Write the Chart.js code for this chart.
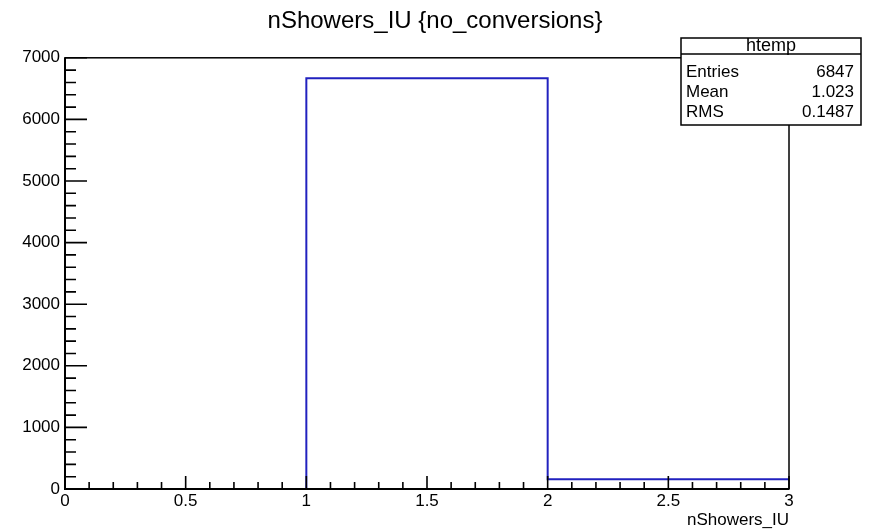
<!DOCTYPE html>
<html>
<head>
<meta charset="utf-8">
<script src="https://cdn.jsdelivr.net/npm/chart.js@4.4.1/dist/chart.umd.min.js"></script>
<style>
  html, body { margin: 0; padding: 0; background: #fff; }
  #wrap { width: 870px; height: 531px; }
</style>
</head>
<body>
<div id="wrap"><canvas id="hist"></canvas></div>
<script>
// histogram data
var binEdges = [0, 1, 2, 3];
var binCounts = [0, 6670, 157];
var xTicks = [0, 0.5, 1, 1.5, 2, 2.5, 3];
var yTicks = [0, 1000, 2000, 3000, 4000, 5000, 6000, 7000];
var statNames = ['Entries', 'Mean', 'RMS'];
var statValues = ['6847', '1.023', '0.1487'];

var FONT = '"Liberation Sans", Arial, Helvetica, sans-serif';

// step outline of the histogram built from the bins
var outline = [];
for (var i = 0; i < binCounts.length; i++) {
    outline.push({x: binEdges[i], y: binCounts[i]});
    outline.push({x: binEdges[i + 1], y: binCounts[i]});
}

function subdivide(ticks, n) {
    var out = [];
    for (var i = 0; i < ticks.length - 1; i++) {
        for (var k = 1; k < n; k++) {
            out.push(ticks[i] + (ticks[i + 1] - ticks[i]) * k / n);
        }
    }
    return out;
}

var rootFrame = {
    id: 'rootFrame',
    afterDatasetsDraw: function(chart) {
        var ctx = chart.ctx;
        var a = chart.chartArea;
        var xs = chart.scales.x, ys = chart.scales.y;
        ctx.save();
        ctx.strokeStyle = '#000';

        // frame
        ctx.lineWidth = 1.5;
        ctx.strokeRect(a.left, a.top, a.right - a.left, a.bottom - a.top);

        // axes
        ctx.lineWidth = 2;
        ctx.beginPath();
        ctx.moveTo(a.left, a.top);
        ctx.lineTo(a.left, a.bottom);
        ctx.lineTo(a.right, a.bottom);
        ctx.stroke();

        // ticks drawn inside the frame
        ctx.lineWidth = 1.6;
        ctx.beginPath();
        xTicks.forEach(function(v) {
            var px = xs.getPixelForValue(v);
            ctx.moveTo(px, a.bottom);
            ctx.lineTo(px, a.bottom - 13);
        });
        subdivide(xTicks, 5).forEach(function(v) {
            var px = xs.getPixelForValue(v);
            ctx.moveTo(px, a.bottom);
            ctx.lineTo(px, a.bottom - 7);
        });
        yTicks.forEach(function(v) {
            var py = ys.getPixelForValue(v);
            ctx.moveTo(a.left, py);
            ctx.lineTo(a.left + 22, py);
        });
        subdivide(yTicks, 5).forEach(function(v) {
            var py = ys.getPixelForValue(v);
            ctx.moveTo(a.left, py);
            ctx.lineTo(a.left + 11, py);
        });
        ctx.stroke();

        // stats box
        var bx = 681, by = 38, bw = 180, bh = 87;
        ctx.fillStyle = '#fff';
        ctx.fillRect(bx, by, bw, bh);
        ctx.lineWidth = 1.5;
        ctx.strokeRect(bx, by, bw, bh);
        ctx.beginPath();
        ctx.moveTo(bx, by + 16);
        ctx.lineTo(bx + bw, by + 16);
        ctx.stroke();

        ctx.fillStyle = '#000';
        ctx.textBaseline = 'middle';
        ctx.font = '18px ' + FONT;
        ctx.textAlign = 'center';
        ctx.fillText('htemp', bx + bw / 2, by + 8);
        ctx.font = '17px ' + FONT;
        for (var i = 0; i < statNames.length; i++) {
            var ty = by + 34 + i * 20;
            ctx.textAlign = 'left';
            ctx.fillText(statNames[i], bx + 5, ty);
            ctx.textAlign = 'right';
            ctx.fillText(statValues[i], bx + bw - 7, ty);
        }
        ctx.restore();
    }
};

new Chart(document.getElementById('hist'), {
    type: 'scatter',
    data: {
        datasets: [{
            label: 'htemp',
            data: outline,
            showLine: true,
            borderColor: '#2121bf',
            borderWidth: 2,
            pointRadius: 0,
            tension: 0,
            fill: false
        }]
    },
    options: {
        responsive: true,
        maintainAspectRatio: false,
        animation: false,
        layout: { padding: 0 },
        plugins: {
            legend: { display: false },
            tooltip: { enabled: false },
            title: {
                display: true,
                text: 'nShowers_IU {no_conversions}',
                color: '#000',
                font: { family: FONT, size: 24, weight: 'normal' },
                padding: { top: 7, bottom: 22 }
            }
        },
        scales: {
            x: {
                type: 'linear',
                min: binEdges[0],
                max: binEdges[binEdges.length - 1],
                afterBuildTicks: function(s) { s.ticks = xTicks.map(function(v) { return {value: v}; }); },
                afterFit: function(s) { s.height = 42; },
                grid: { display: false, drawTicks: false },
                border: { display: false },
                ticks: {
                    color: '#000',
                    padding: 2,
                    maxRotation: 0,
                    font: { family: FONT, size: 17 },
                    callback: function(v) { return String(v); }
                },
                title: {
                    display: true,
                    text: 'nShowers_IU',
                    align: 'end',
                    color: '#000',
                    padding: 0,
                    font: { family: FONT, size: 17 }
                }
            },
            y: {
                min: 0,
                max: 7000,
                afterBuildTicks: function(s) { s.ticks = yTicks.map(function(v) { return {value: v}; }); },
                afterFit: function(s) { s.width = 65; },
                grid: { display: false, drawTicks: false },
                border: { display: false },
                ticks: {
                    color: '#000',
                    padding: 5,
                    font: { family: FONT, size: 17 },
                    callback: function(v) { return String(v); }
                }
            },
            // empty right margin, keeps the frame where the reference has it
            margin: {
                type: 'linear',
                position: 'right',
                afterFit: function(s) { s.width = 81; },
                grid: { display: false, drawTicks: false },
                border: { display: false },
                ticks: { display: false }
            }
        }
    },
    plugins: [rootFrame]
});
</script>
</body>
</html>
